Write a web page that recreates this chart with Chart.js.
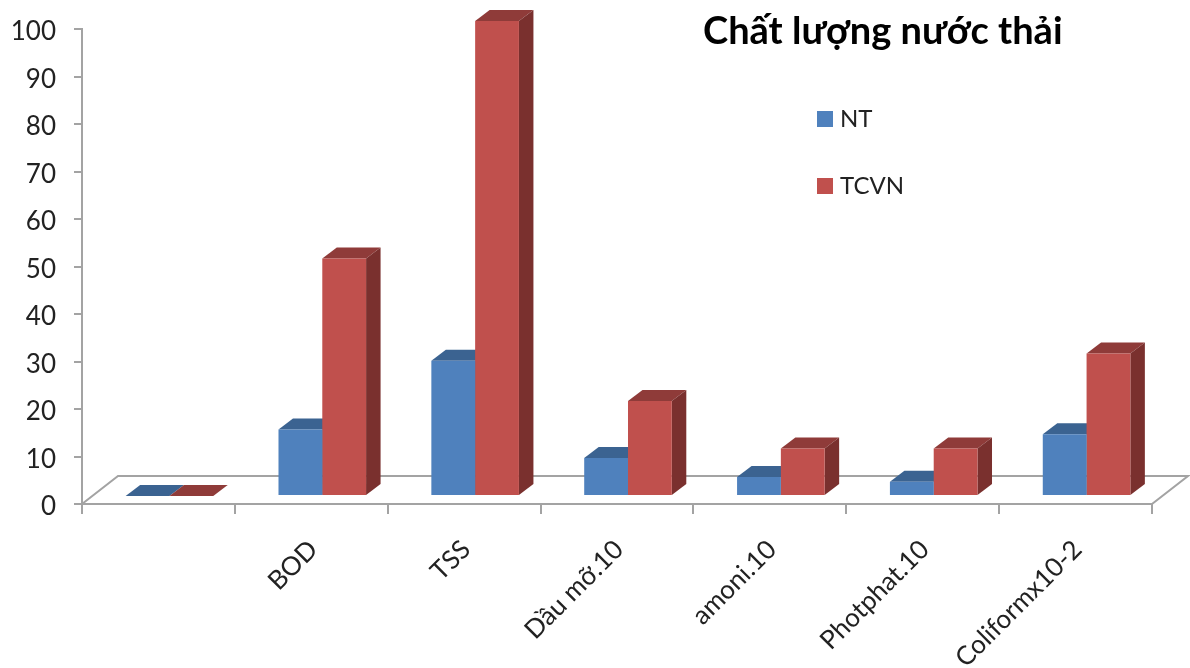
<!DOCTYPE html>
<html>
<head>
<meta charset="utf-8">
<title>Chất lượng nước thải</title>
<script src="https://cdn.jsdelivr.net/npm/chart.js@4"></script>
<style>
  html, body { margin: 0; padding: 0; background: #fff; }
  canvas { display: block; }
</style>
</head>
<body>
<canvas id="chart" width="1190" height="668"></canvas>
<script>
const categories = ["", "BOD", "TSS", "Dầu mỡ.10", "amoni.10", "Photphat.10", "Coliformx10-2"];
const ntValues = [0, 14, 28.5, 8, 4, 3, 13];
const tcvnValues = [0, 50, 100, 20, 10, 10, 30];
const titleText = "Chất lượng nước thải";
const fontName = "Lato, 'Open Sans', sans-serif";

// how far the bars stand from the front of the floor, and how deep they are
const barShift = { x: 11, y: -8 };
const barDepth = { x: 14.5, y: -11 };
const floorDepth = { x: 36, y: -28 };
const faceColors = [
    { top: "#3b6391", side: "#2f5078" },
    { top: "#8f3b39", side: "#7a302e" }
];

const fake3d = {
    id: "fake3d",
    beforeDatasetsDraw(chart) {
        const ctx = chart.ctx;
        const area = chart.chartArea;

        // floor outline
        ctx.save();
        ctx.strokeStyle = "#a3a3a3";
        ctx.lineWidth = 2;
        ctx.beginPath();
        ctx.moveTo(area.left, area.bottom);
        ctx.lineTo(area.left + floorDepth.x, area.bottom + floorDepth.y);
        ctx.lineTo(area.right + floorDepth.x, area.bottom + floorDepth.y);
        ctx.lineTo(area.right, area.bottom);
        ctx.stroke();
        ctx.restore();

        // top and right faces; the bar elements paint the front faces over them
        ctx.save();
        ctx.translate(barShift.x, barShift.y);
        chart.data.datasets.forEach((ds, i) => {
            chart.getDatasetMeta(i).data.forEach(bar => {
                const left = bar.x - bar.width / 2;
                const right = bar.x + bar.width / 2;
                ctx.fillStyle = faceColors[i].top;
                ctx.beginPath();
                ctx.moveTo(left, bar.y);
                ctx.lineTo(left + barDepth.x, bar.y + barDepth.y);
                ctx.lineTo(right + barDepth.x, bar.y + barDepth.y);
                ctx.lineTo(right, bar.y);
                ctx.closePath();
                ctx.fill();

                ctx.fillStyle = faceColors[i].side;
                ctx.beginPath();
                ctx.moveTo(right, bar.y);
                ctx.lineTo(right + barDepth.x, bar.y + barDepth.y);
                ctx.lineTo(right + barDepth.x, bar.base + barDepth.y);
                ctx.lineTo(right, bar.base);
                ctx.closePath();
                ctx.fill();
            });
        });
    },
    afterDatasetsDraw(chart) {
        chart.ctx.restore();
    },
    afterDraw(chart) {
        const ctx = chart.ctx;
        ctx.save();
        ctx.fillStyle = "#000";
        ctx.font = "bold 38px " + fontName;
        ctx.textBaseline = "alphabetic";
        ctx.fillText(titleText, 703, 44);

        // legend, stacked inside the plot at the upper right
        ctx.font = "24px " + fontName;
        ctx.textBaseline = "middle";
        chart.data.datasets.forEach((ds, i) => {
            const y = 119 + i * 67;
            ctx.fillStyle = ds.backgroundColor;
            ctx.fillRect(817, y - 8, 16, 16);
            ctx.fillStyle = "#222";
            ctx.fillText(ds.label, 840, y);
        });
        ctx.restore();
    }
};

new Chart(document.getElementById("chart"), {
    type: "bar",
    data: {
        labels: categories,
        datasets: [
            { label: "NT", data: ntValues, backgroundColor: "#4f81bd", clip: false },
            { label: "TCVN", data: tcvnValues, backgroundColor: "#c0504d", clip: false }
        ]
    },
    options: {
        responsive: false,
        animation: false,
        layout: { padding: { left: 0, top: 29, right: 38, bottom: 0 } },
        datasets: { bar: { categoryPercentage: 0.573, barPercentage: 1 } },
        plugins: {
            title: { display: false },
            tooltip: { enabled: false },
            legend: { display: false }
        },
        scales: {
            x: {
                afterFit: s => { s.height = 164; },
                border: { color: "#a3a3a3", width: 2 },
                grid: { drawOnChartArea: false, color: "#a3a3a3", lineWidth: 2, tickLength: 10 },
                ticks: {
                    minRotation: 45,
                    maxRotation: 45,
                    padding: 20,
                    labelOffset: 2,
                    color: "#222",
                    font: { family: fontName, size: 26 }
                }
            },
            y: {
                min: 0,
                max: 100,
                // fixed gutter; tick padding must not push the plot down
                afterFit: s => { s.width = 82; s.paddingTop = 0; s.paddingBottom = 0; },
                border: { color: "#a3a3a3", width: 2 },
                grid: { drawOnChartArea: false, color: "#a3a3a3", lineWidth: 2, tickLength: 8 },
                ticks: {
                    stepSize: 10,
                    padding: 18,
                    labelOffset: 3,
                    color: "#222",
                    font: { family: fontName, size: 26 }
                }
            }
        }
    },
    plugins: [fake3d]
});
</script>
</body>
</html>
